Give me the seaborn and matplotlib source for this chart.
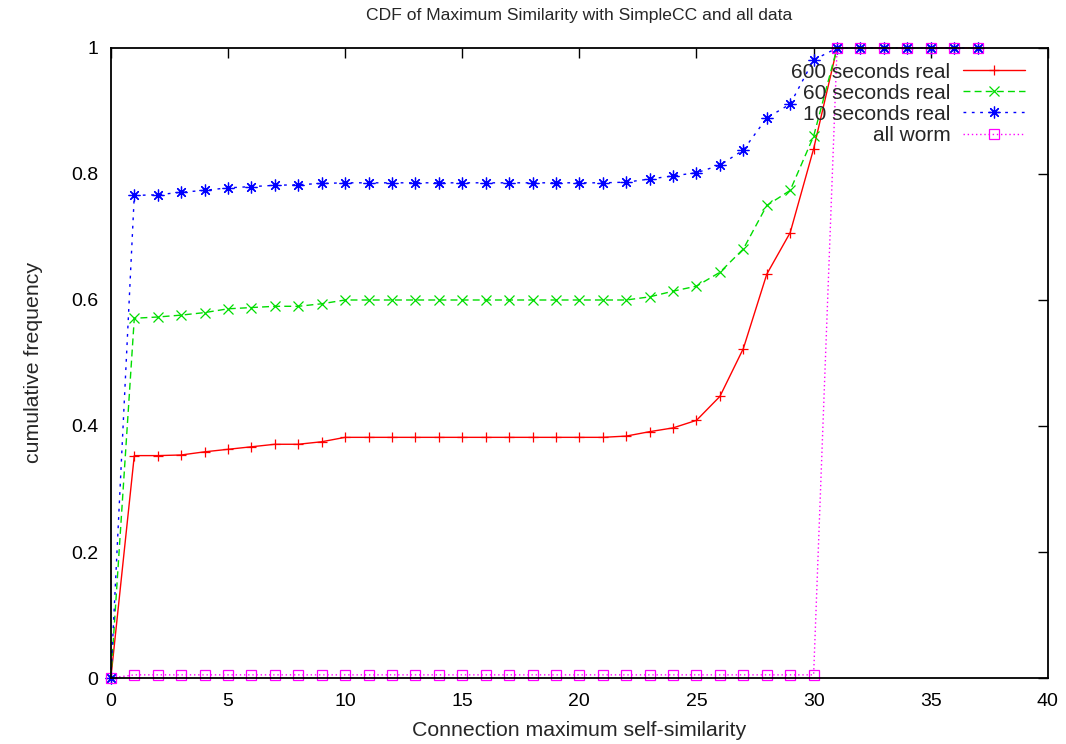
import numpy as np
import pandas as pd
import matplotlib
matplotlib.use("Agg")
import matplotlib.pyplot as plt
import seaborn as sns

# data
x_vals = list(range(0, 38))

real_600 = [0.0, 0.353, 0.353, 0.354, 0.359, 0.363, 0.367, 0.371, 0.371, 0.375,
            0.382, 0.382, 0.382, 0.382, 0.382, 0.382, 0.382, 0.382, 0.382, 0.382,
            0.382, 0.382, 0.384, 0.391, 0.397, 0.409, 0.447, 0.523, 0.641, 0.707,
            0.840, 1.0, 1.0, 1.0, 1.0, 1.0, 1.0, 1.0]
real_60 = [0.0, 0.571, 0.573, 0.576, 0.580, 0.586, 0.588, 0.590, 0.590, 0.594,
           0.600, 0.600, 0.600, 0.600, 0.600, 0.600, 0.600, 0.600, 0.600, 0.600,
           0.600, 0.600, 0.600, 0.605, 0.614, 0.622, 0.644, 0.681, 0.750, 0.774,
           0.860, 1.0, 1.0, 1.0, 1.0, 1.0, 1.0, 1.0]
real_10 = [0.0, 0.766, 0.767, 0.771, 0.774, 0.778, 0.780, 0.782, 0.783, 0.785,
           0.786, 0.786, 0.786, 0.786, 0.786, 0.786, 0.786, 0.786, 0.786, 0.786,
           0.786, 0.786, 0.787, 0.792, 0.797, 0.802, 0.814, 0.838, 0.889, 0.911,
           0.981, 1.0, 1.0, 1.0, 1.0, 1.0, 1.0, 1.0]
all_worm = [0.0] + [0.005] * 30 + [1.0] * 7

series_names = ["600 seconds real", "60 seconds real", "10 seconds real", "all worm"]
series_vals = [real_600, real_60, real_10, all_worm]
x_ticks = [0, 5, 10, 15, 20, 25, 30, 35, 40]
y_ticks = [0, 0.2, 0.4, 0.6, 0.8, 1]
y_tick_labels = ["0", "0.2", "0.4", "0.6", "0.8", "1"]

df = pd.DataFrame({
    "x": x_vals * len(series_names),
    "y": sum(series_vals, []),
    "series": sum([[n] * len(x_vals) for n in series_names], []),
})

sns.set_style("white")
plt.rcParams["font.family"] = ["Liberation Sans", "DejaVu Sans"]

styles = {
    "600 seconds real": dict(color="#ff0000", linestyle="-", marker="+", ms=7.5),
    "60 seconds real": dict(color="#00dd00", linestyle=(0, (5, 3)), marker="x", ms=7),
    "10 seconds real": dict(color="#0000ff", linestyle=(0, (2, 4)), marker=(8, 2, 0), ms=8.5),
    "all worm": dict(color="#ff00ff", linestyle=(0, (1, 2)), marker="s", ms=7),
}

fig = plt.figure(figsize=(10.66, 7.44), dpi=100)
ax = fig.add_axes([0.104, 0.0887, 0.879, 0.8468])

for name in series_names:
    st = styles[name]
    sub = df[df["series"] == name]
    sns.lineplot(data=sub, x="x", y="y", ax=ax, label=name, color=st["color"],
                 linestyle=st["linestyle"], marker=st["marker"], markersize=st["ms"],
                 markerfacecolor="none", markeredgecolor=st["color"],
                 markeredgewidth=0.9, linewidth=1.0, clip_on=False)

ax.set_xlim(0, 40)
ax.set_ylim(0, 1)
ax.set_xticks(x_ticks)
ax.set_yticks(y_ticks)
ax.set_yticklabels(y_tick_labels)
ax.tick_params(direction="in", length=7, width=1, top=True, right=True,
               labelsize=14, colors="black")
ax.tick_params(axis="x", labeltop=False, pad=11)
ax.tick_params(axis="y", labelright=False, pad=9)
for sp in ax.spines.values():
    sp.set_color("black")
    sp.set_linewidth(1.3)

ax.set_title("CDF of Maximum Similarity with SimpleCC and all data", fontsize=12.6, pad=20)
ax.set_xlabel("Connection maximum self-similarity", fontsize=15.3, labelpad=8)
ax.set_ylabel("cumulative frequency", fontsize=15.3, labelpad=20)

leg = ax.legend(loc="upper right", bbox_to_anchor=(0.985, 0.99), frameon=False,
                markerfirst=False, fontsize=15, handlelength=3.0,
                labelspacing=0.1, handletextpad=0.6, borderaxespad=0.0)

fig.savefig("out.png", dpi=100)
